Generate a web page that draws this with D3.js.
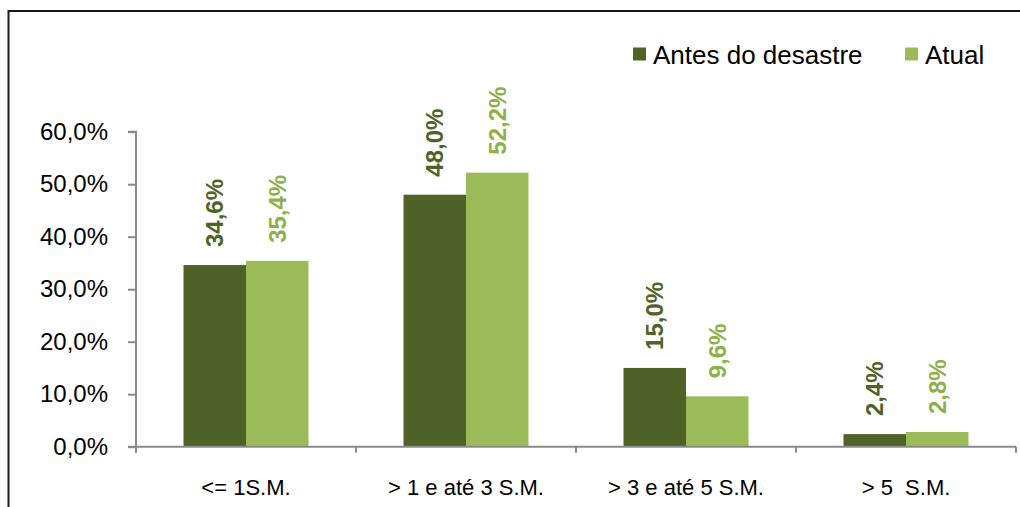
<!DOCTYPE html>
<html><head><meta charset="utf-8">
<script src="https://cdn.jsdelivr.net/npm/d3@7"></script>
<style>body{margin:0;background:#fff}svg{display:block}</style>
</head><body>
<script>
const categories = ["<= 1S.M.", "> 1 e até 3 S.M.", "> 3 e até 5 S.M.", "> 5  S.M."];
const seriesNames = ["Antes do desastre", "Atual"];
const antes = [34.6, 48.0, 15.0, 2.4];
const atual = [35.4, 52.2, 9.6, 2.8];
const yTicks = [0, 10, 20, 30, 40, 50, 60];
const colors = ["#4F6228", "#9BBB59"];
const labelColors = ["#4F6228", "#8DB04A"];

const W = 1020, H = 507;
const svg = d3.select("body").append("svg").attr("width", W).attr("height", H);
const font = "'Liberation Sans', Arial, sans-serif";

// frame
svg.append("rect").attr("x", 8.5).attr("y", 11).attr("width", 1030).attr("height", 520)
  .attr("fill", "none").attr("stroke", "#1a1a1a").attr("stroke-width", 2);

const x0 = 136, x1 = 1016, yBase = 446.7, yTop = 131.7;
const x = d3.scaleBand().domain(categories).range([x0, x1]);
const y = d3.scaleLinear().domain([0, 60]).range([yBase, yTop]);
const xs = d3.scaleBand().domain(seriesNames).range([0, 125]);
const axisColor = "#8a8a8a";

const series = [antes, atual];
series.forEach((vals, si) => {
  const g = svg.append("g");
  g.selectAll("rect").data(vals).join("rect")
    .attr("x", (d, i) => x(categories[i]) + (x.bandwidth() - 125) / 2 + xs(seriesNames[si]))
    .attr("width", xs.bandwidth())
    .attr("y", d => y(d))
    .attr("height", d => yBase - y(d))
    .attr("fill", colors[si]);
  g.selectAll("text").data(vals).join("text")
    .attr("transform", (d, i) => {
      const cx = x(categories[i]) + (x.bandwidth() - 125) / 2 + xs(seriesNames[si]) + xs.bandwidth() / 2;
      return `translate(${cx},${y(d) - 18}) rotate(-90)`;
    })
    .attr("dy", "0.36em")
    .attr("font-family", font).attr("font-weight", "bold").attr("font-size", 24)
    .attr("fill", labelColors[si])
    .text(d => d.toFixed(1).replace(".", ",") + "%");
});

// y axis
const yAxis = svg.append("g").attr("transform", `translate(${x0},0)`)
  .call(d3.axisLeft(y).tickValues(yTicks).tickSize(8).tickPadding(20)
    .tickFormat(d => d.toFixed(1).replace(".", ",") + "%"));
yAxis.select(".domain").attr("stroke", axisColor).attr("stroke-width", 2)
  .attr("d", `M-8,${yTop}H0V${yBase + 6}`);
yAxis.selectAll(".tick line").attr("stroke", axisColor).attr("stroke-width", 2);
yAxis.selectAll(".tick text").attr("font-family", font).attr("font-size", 24).attr("fill", "#000");

// x axis
const xAxis = svg.append("g").attr("transform", `translate(0,${yBase})`)
  .call(d3.axisBottom(x).tickSize(0).tickPadding(33));
xAxis.select(".domain").attr("stroke", axisColor).attr("stroke-width", 2)
  .attr("d", `M${x0 - 8},0H${x1}`);
xAxis.selectAll(".tick text").attr("font-family", font).attr("font-size", 22).attr("fill", "#000")
  .style("white-space", "pre");
const bounds = categories.map(c => x(c)).concat([x1]);
xAxis.selectAll(".sep").data(bounds).join("line").attr("class", "sep")
  .attr("x1", d => d).attr("x2", d => d).attr("y1", 0).attr("y2", 6)
  .attr("stroke", axisColor).attr("stroke-width", 2);

// legend
const legX = [633, 905];
seriesNames.forEach((n, i) => {
  svg.append("rect").attr("x", legX[i]).attr("y", 47.5).attr("width", 13).attr("height", 13).attr("fill", colors[i]);
  svg.append("text").attr("x", legX[i] + 20).attr("y", 64).attr("font-family", font)
    .attr("font-size", 26).attr("fill", "#000").text(n);
});
</script>
</body></html>
